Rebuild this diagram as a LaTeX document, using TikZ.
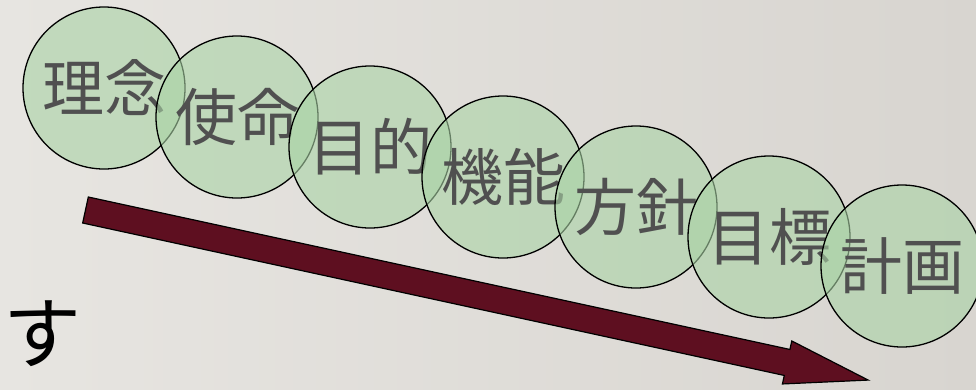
\documentclass[tikz,border=0pt]{standalone}
\usepackage{fontspec}
\usepackage{tikz}
\newfontfamily\jpfont{Noto Sans CJK JP}
\definecolor{bgleft}{HTML}{E7E5E1}
\definecolor{bgright}{HTML}{D8D5D0}
\definecolor{ballgreen}{HTML}{A9D3A5}
\definecolor{wordgray}{HTML}{505050}
\definecolor{arrowred}{HTML}{5E0F20}

\begin{document}
\begin{tikzpicture}[x=1pt, y=-1pt,
    ball/.style={circle, draw=black, line width=1.3pt, fill=ballgreen,
      fill opacity=0.6, text opacity=1, minimum size=162pt, inner sep=0pt,
      text=wordgray, font=\jpfont\fontsize{62}{70}\selectfont}]
    \clip (0,0) rectangle (976,389);
    \shade[left color=bgleft, right color=bgright] (0,0) rectangle (976,389);

    % big arrow
    \begin{scope}[shift={(85.5,210)}, rotate=-12.26]
      \draw[fill=arrowred, line width=1.2pt] (0,-13.3) -- (718,-13.3) -- (718,-22)
        -- (801,0) -- (718,22) -- (718,13.3) -- (0,13.3) -- cycle;
    \end{scope}

    \node[ball] (rinen) at (104, 88){理念};
    \node[ball] (shimei) at (237, 117){使命};
    \node[ball] (mokuteki) at (370, 147){目的};
    \node[ball] (kinou) at (503, 177){機能};
    \node[ball] (houshin) at (636, 207){方針};
    \node[ball] (mokuhyou) at (769, 237){目標};
    \node[ball] (keikaku) at (902, 266){計画};

    \node[font=\jpfont\fontsize{78}{80}\selectfont] (su) at (43, 334){す};
\end{tikzpicture}
\end{document}
